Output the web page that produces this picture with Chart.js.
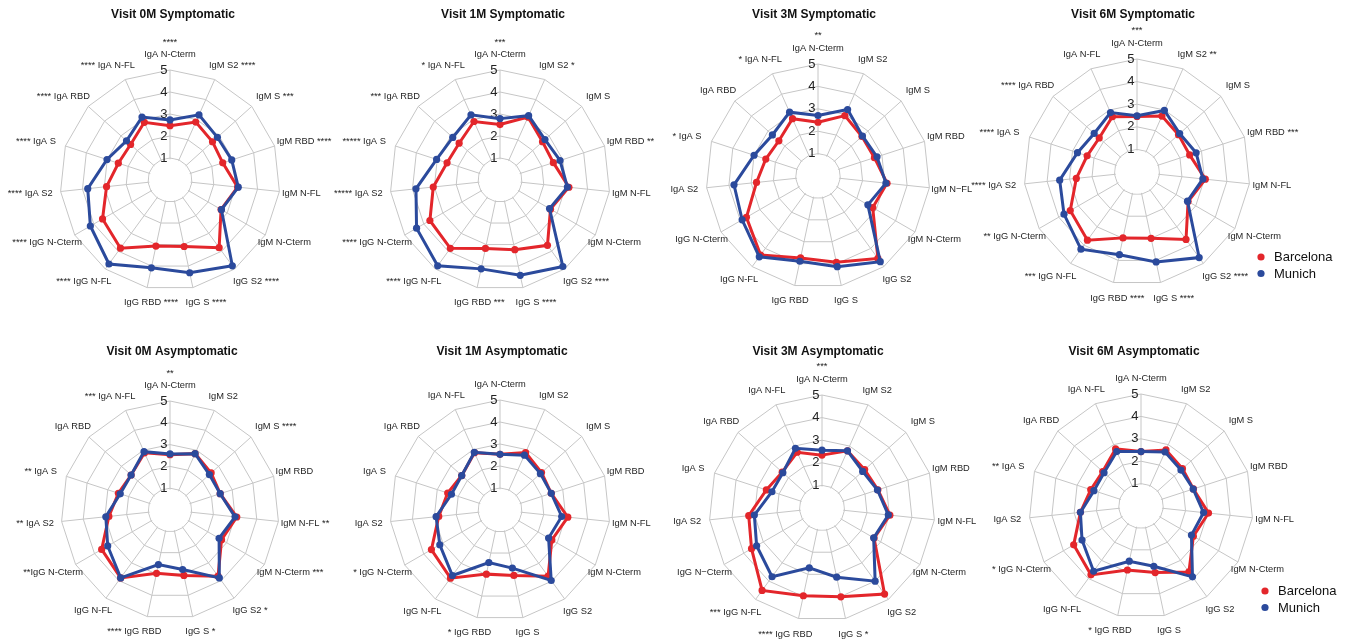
<!DOCTYPE html>
<html>
<head>
<meta charset="utf-8">
<title>Antibody profiles by visit</title>
<script src="https://cdn.jsdelivr.net/npm/chart.js@4.4.1/dist/chart.umd.min.js"></script>
<style>
  html, body { margin: 0; padding: 0; background: #ffffff; }
  #wrap { position: relative; width: 1352px; height: 641px; overflow: hidden; background: #ffffff; }
  #wrap canvas { position: absolute; }
</style>
</head>
<body>
<div id="wrap"></div>
<script>
// Antigen axes, clockwise from the top
const antigens = ['IgA N-Cterm', 'IgM S2', 'IgM S', 'IgM RBD', 'IgM N-FL', 'IgM N-Cterm',
  'IgG S2', 'IgG S', 'IgG RBD', 'IgG N-FL', 'IgG N-Cterm', 'IgA S2', 'IgA S', 'IgA RBD', 'IgA N-FL'];

const cohorts = ['Barcelona', 'Munich'];
const radialTicks = [1, 2, 3, 4, 5];

// Axis labels with significance marks, one list per panel
const labels0MSym = [['****', 'IgA N-Cterm'], 'IgM S2 ****', 'IgM S ***', 'IgM RBD ****', 'IgM N-FL', 'IgM N-Cterm',
  'IgG S2 ****', 'IgG S ****', 'IgG RBD ****', '**** IgG N-FL', '**** IgG N-Cterm', '**** IgA S2', '**** IgA S', '**** IgA RBD', '**** IgA N-FL'];
const labels1MSym = [['***', 'IgA N-Cterm'], 'IgM S2 *', 'IgM S', 'IgM RBD **', 'IgM N-FL', 'IgM N-Cterm',
  'IgG S2 ****', 'IgG S ****', 'IgG RBD ***', '**** IgG N-FL', '**** IgG N-Cterm', '***** IgA S2', '***** IgA S', '*** IgA RBD', '* IgA N-FL'];
const labels3MSym = [['**', 'IgA N-Cterm'], 'IgM S2', 'IgM S', 'IgM RBD', 'IgM N\u2212FL', 'IgM N-Cterm',
  'IgG S2', 'IgG S', 'IgG RBD', 'IgG N-FL', 'IgG N-Cterm', 'IgA S2', '* IgA S', 'IgA RBD', '* IgA N-FL'];
const labels6MSym = [['***', 'IgA N-Cterm'], 'IgM S2 **', 'IgM S', 'IgM RBD ***', 'IgM N-FL', 'IgM N-Cterm',
  'IgG S2 ****', 'IgG S ****', 'IgG RBD ****', '*** IgG N-FL', '** IgG N-Cterm', '**** IgA S2', '**** IgA S', '**** IgA RBD', 'IgA N-FL'];
const labels0MAsym = [['**', 'IgA N-Cterm'], 'IgM S2', 'IgM S ****', 'IgM RBD', 'IgM N-FL **', 'IgM N-Cterm ***',
  'IgG S2 *', 'IgG S *', '**** IgG RBD', 'IgG N-FL', '**IgG N-Cterm', '** IgA S2', '** IgA S', 'IgA RBD', '*** IgA N-FL'];
const labels1MAsym = ['IgA N-Cterm', 'IgM S2', 'IgM S', 'IgM RBD', 'IgM N-FL', 'IgM N-Cterm',
  'IgG S2', 'IgG S', '* IgG RBD', 'IgG N-FL', '* IgG N-Cterm', 'IgA S2', 'IgA S', 'IgA RBD', 'IgA N-FL'];
const labels3MAsym = [['***', 'IgA N-Cterm'], 'IgM S2', 'IgM S', 'IgM RBD', 'IgM N-FL', 'IgM N-Cterm',
  'IgG S2', 'IgG S *', '**** IgG RBD', '*** IgG N-FL', 'IgG N\u2212Cterm', 'IgA S2', 'IgA S', 'IgA RBD', 'IgA N-FL'];
const labels6MAsym = ['IgA N-Cterm', 'IgM S2', 'IgM S', 'IgM RBD', 'IgM N-FL', 'IgM N-Cterm',
  'IgG S2', 'IgG S', '* IgG RBD', 'IgG N-FL', '* IgG N-Cterm', 'IgA S2', '** IgA S', 'IgA RBD', 'IgA N-FL'];

// Median antibody levels per antigen (same order as antigens)
const barcelona0MSym = [2.47, 2.88, 2.60, 2.52, 3.09, 2.68, 3.80, 3.09, 3.07, 3.83, 3.54, 2.90, 2.47, 2.41, 2.87];
const munich0MSym    = [2.73, 3.24, 2.90, 2.95, 3.12, 2.70, 4.82, 4.31, 4.08, 4.72, 4.18, 3.76, 3.01, 2.66, 3.13];
const barcelona1MSym = [2.52, 3.13, 2.60, 2.55, 3.15, 2.65, 3.67, 3.24, 3.18, 3.84, 3.68, 3.05, 2.53, 2.50, 2.91];
const munich1MSym    = [2.79, 3.20, 2.75, 2.87, 3.08, 2.60, 4.86, 4.43, 4.13, 4.82, 4.38, 3.84, 3.03, 2.89, 3.24];
const barcelona3MSym = [2.40, 2.95, 2.64, 2.65, 3.10, 2.82, 4.55, 3.94, 3.74, 4.36, 3.69, 2.76, 2.45, 2.35, 2.80];
const munich3MSym    = [2.70, 3.25, 2.67, 2.77, 3.05, 2.57, 4.73, 4.14, 3.89, 4.46, 3.91, 3.77, 3.00, 2.74, 3.12];
const barcelona6MSym = [2.46, 2.71, 2.47, 2.45, 3.04, 2.61, 3.69, 3.00, 2.98, 3.73, 3.41, 2.70, 2.32, 2.25, 2.68];
const munich6MSym    = [2.49, 2.98, 2.54, 2.75, 2.93, 2.58, 4.68, 4.07, 3.74, 4.22, 3.73, 3.44, 2.77, 2.55, 2.88];
const barcelona0MAsym = [2.54, 2.83, 2.54, 2.42, 3.08, 2.73, 3.75, 3.07, 2.97, 3.85, 3.62, 2.82, 2.49, 2.40, 2.87];
const munich0MAsym    = [2.57, 2.83, 2.43, 2.42, 3.00, 2.60, 3.85, 2.79, 2.56, 3.85, 3.30, 2.96, 2.40, 2.40, 2.93];
const barcelona1MAsym = [2.53, 2.86, 2.54, 2.45, 3.10, 2.72, 3.72, 3.04, 2.98, 3.83, 3.60, 2.80, 2.50, 2.34, 2.85];
const munich1MAsym    = [2.53, 2.73, 2.47, 2.45, 2.82, 2.55, 3.96, 2.70, 2.44, 3.68, 3.16, 2.92, 2.32, 2.34, 2.87];
const barcelona3MAsym = [2.34, 2.77, 2.54, 2.60, 3.02, 2.66, 4.71, 4.02, 3.97, 4.51, 3.60, 3.26, 2.59, 2.37, 2.70];
const munich3MAsym    = [2.56, 2.77, 2.42, 2.58, 2.95, 2.64, 4.00, 3.13, 2.71, 3.76, 3.34, 3.01, 2.33, 2.33, 2.89];
const barcelona6MAsym = [2.43, 2.74, 2.49, 2.46, 3.03, 2.70, 3.64, 3.04, 2.92, 3.80, 3.47, 2.72, 2.36, 2.30, 2.79];
const munich6MAsym    = [2.43, 2.64, 2.40, 2.45, 2.81, 2.60, 3.91, 2.75, 2.52, 3.60, 3.04, 2.72, 2.21, 2.22, 2.66];

const titles = ['Visit 0M Symptomatic', 'Visit 1M Symptomatic', 'Visit 3M Symptomatic', 'Visit 6M Symptomatic',
  'Visit 0M Asymptomatic', 'Visit 1M Asymptomatic', 'Visit 3M Asymptomatic', 'Visit 6M Asymptomatic'];

const panelLabels = [labels0MSym, labels1MSym, labels3MSym, labels6MSym, labels0MAsym, labels1MAsym, labels3MAsym, labels6MAsym];
const panelBarcelona = [barcelona0MSym, barcelona1MSym, barcelona3MSym, barcelona6MSym, barcelona0MAsym, barcelona1MAsym, barcelona3MAsym, barcelona6MAsym];
const panelMunich = [munich0MSym, munich1MSym, munich3MSym, munich6MSym, munich0MAsym, munich1MAsym, munich3MAsym, munich6MAsym];

// Page layout: plot centre, radius, title anchor, row band
const layoutSpec = [
  { cx: 170,  cy: 180, r: 110, tx: 173,  ty: 15,  top: 0,   h: 325, legend: false },
  { cx: 500,  cy: 180, r: 110, tx: 503,  ty: 15,  top: 0,   h: 325, legend: false },
  { cx: 818,  cy: 176, r: 112, tx: 814,  ty: 15,  top: 0,   h: 325, legend: false },
  { cx: 1137, cy: 172, r: 113, tx: 1133, ty: 15,  top: 0,   h: 325, legend: true },
  { cx: 170,  cy: 510, r: 109, tx: 172,  ty: 352, top: 320, h: 321, legend: false },
  { cx: 500,  cy: 510, r: 110, tx: 502,  ty: 352, top: 320, h: 321, legend: false },
  { cx: 822,  cy: 508, r: 113, tx: 818,  ty: 352, top: 320, h: 321, legend: false },
  { cx: 1141, cy: 506, r: 112, tx: 1134, ty: 352, top: 320, h: 321, legend: true }
];

const RED = '#e3262b';
const BLUE = '#2b4a9c';
const GRID = '#c6c6c6';
const FONT = '"Liberation Sans", Arial, Helvetica, sans-serif';

// Draws the centre hole, radial tick numbers, axis labels, title and legend
const radarDecor = {
  id: 'radarDecor',
  beforeDatasetsDraw(chart) {
    const s = chart.scales.r;
    const ctx = chart.ctx;
    ctx.save();
    ctx.fillStyle = '#ffffff';
    ctx.beginPath();
    ctx.arc(s.xCenter, s.yCenter, s.getDistanceFromCenterForValue(1) - 1.2, 0, Math.PI * 2);
    ctx.fill();
    ctx.fillStyle = '#222222';
    ctx.font = '13px ' + FONT;
    ctx.textAlign = 'right';
    ctx.textBaseline = 'middle';
    radialTicks.forEach(v => {
      const p = s.getPointPositionForValue(0, v);
      ctx.fillText(String(v), p.x - 2.5, p.y);
    });
    ctx.restore();
  },
  afterDraw(chart) {
    const s = chart.scales.r;
    const ctx = chart.ctx;
    const spec = chart.options.plugins.radarDecor;
    const r = s.drawingArea;
    const n = chart.data.labels.length;
    ctx.save();
    ctx.fillStyle = '#1e1e1e';
    ctx.font = '9.3px ' + FONT;
    ctx.textBaseline = 'middle';
    chart.data.labels.forEach((lab, i) => {
      const a = i * 2 * Math.PI / n;
      const px = s.xCenter + 1.2 * r * Math.sin(a);
      const py = s.yCenter - 1.14 * r * Math.cos(a);
      const lines = Array.isArray(lab) ? lab : [lab];
      const main = lines[lines.length - 1];
      for (let k = 0; k < lines.length - 1; k++) {
        ctx.textAlign = 'center';
        ctx.fillText(lines[k], px, py - (lines.length - 1 - k) * 12.5);
      }
      const base = main.replace(/\*/g, '').trim();
      const bw = ctx.measureText(base).width;
      if (/^\*/.test(main)) {
        ctx.textAlign = 'right';
        ctx.fillText(main, px + bw / 2, py);
      } else if (/\*$/.test(main)) {
        ctx.textAlign = 'left';
        ctx.fillText(main, px - bw / 2, py);
      } else {
        ctx.textAlign = 'center';
        ctx.fillText(main, px, py);
      }
    });
    // panel title
    ctx.fillStyle = '#111111';
    ctx.font = 'bold 12px ' + FONT;
    ctx.textAlign = 'center';
    ctx.fillText(spec.title, spec.tx, spec.ty);
    // legend
    if (spec.legend) {
      const lx = s.xCenter + 124;
      const ly = s.yCenter + 85;
      chart.data.datasets.slice().sort((a, b) => a.legendIndex - b.legendIndex).forEach((ds, k) => {
        ctx.fillStyle = ds.borderColor;
        ctx.beginPath();
        ctx.arc(lx, ly + k * 16.5, 3.6, 0, Math.PI * 2);
        ctx.fill();
        ctx.fillStyle = '#111111';
        ctx.font = '13px ' + FONT;
        ctx.textAlign = 'left';
        ctx.fillText(ds.label, lx + 13, ly + k * 16.5 + 0.5);
      });
    }
    ctx.restore();
  }
};

const wrap = document.getElementById('wrap');

layoutSpec.forEach((spec, idx) => {
  const left = spec.cx - 200;
  const W = spec.legend ? 410 : 400;
  const canvas = document.createElement('canvas');
  canvas.width = W;
  canvas.height = spec.h;
  canvas.style.left = left + 'px';
  canvas.style.top = spec.top + 'px';
  canvas.style.width = W + 'px';
  canvas.style.height = spec.h + 'px';
  wrap.appendChild(canvas);

  const localCy = spec.cy - spec.top;
  const pad = {
    left: spec.cx - spec.r - left,
    right: left + W - (spec.cx + spec.r),
    top: localCy - spec.r,
    bottom: spec.h - (localCy + spec.r)
  };

  const lineStyle = (color) => ({
    borderColor: color,
    backgroundColor: color,
    pointBackgroundColor: color,
    pointBorderColor: color,
    borderWidth: 3,
    pointRadius: 3.6,
    pointBorderWidth: 0,
    fill: false,
    tension: 0
  });

  new Chart(canvas, {
    type: 'radar',
    data: {
      labels: panelLabels[idx],
      datasets: [
        Object.assign({ label: cohorts[0], data: panelBarcelona[idx], order: 2, legendIndex: 0 }, lineStyle(RED)),
        Object.assign({ label: cohorts[1], data: panelMunich[idx], order: 1, legendIndex: 1 }, lineStyle(BLUE))
      ]
    },
    options: {
      responsive: false,
      animation: false,
      devicePixelRatio: 1,
      layout: { padding: pad },
      scales: {
        r: {
          min: 0,
          max: 5,
          startAngle: 0,
          ticks: { display: false, stepSize: 1 },
          pointLabels: { display: false },
          grid: { color: GRID, lineWidth: 1, circular: false },
          angleLines: { color: GRID, lineWidth: 1 }
        }
      },
      plugins: {
        legend: { display: false },
        tooltip: { enabled: false },
        title: { display: false },
        radarDecor: { title: titles[idx], tx: spec.tx - left, ty: spec.ty - spec.top, legend: spec.legend }
      }
    },
    plugins: [radarDecor]
  });
});
</script>
</body>
</html>
